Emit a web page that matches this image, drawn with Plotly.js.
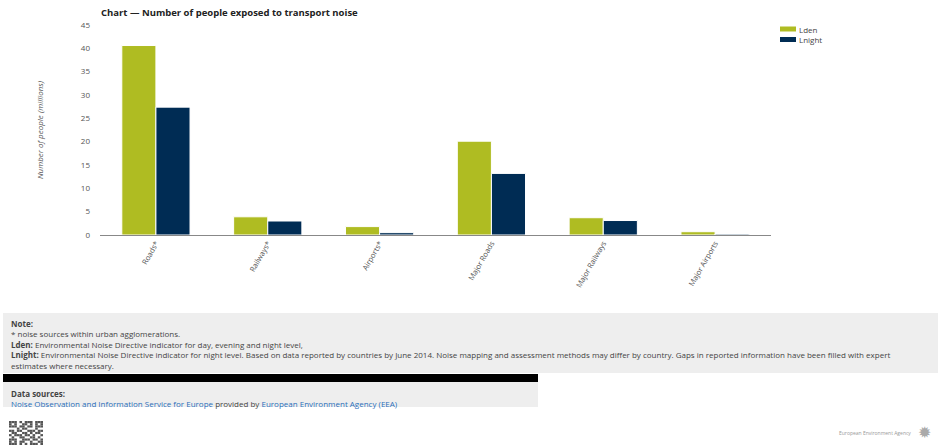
<!DOCTYPE html>
<html>
<head>
<meta charset="utf-8">
<script src="https://cdn.plot.ly/plotly-3.0.1.min.js"></script>
<style>html,body{margin:0;padding:0;background:#fff;}#chart{width:938px;height:447px;}</style>
</head>
<body>
<div id="chart"></div>
<script>
const categories = ["Roads*", "Railways*", "Airports*", "Major Roads", "Major Railways", "Major Airports"];
const seriesNames = ["Lden", "Lnight"];
const lden = [40.6, 3.9, 1.8, 20.1, 3.7, 0.7];
const lnight = [27.4, 3.0, 0.5, 13.2, 3.1, 0.2];
const yTicks = [0, 5, 10, 15, 20, 25, 30, 35, 40, 45];
const colors = ["#afbc22", "#002c54"];

const W = 938, H = 447;
const L = 100, R = 771, T = 25, B = 235;
const px = x => (x - L) / (R - L);
const py = y => (B - y) / (B - T);
const FONT = "Open Sans, DejaVu Sans, sans-serif";

const traces = [
  {type: "bar", name: seriesNames[0], x: categories, y: lden,
   marker: {color: colors[0], line: {color: "#ffffff", width: 1}}},
  {type: "bar", name: seriesNames[1], x: categories, y: lnight,
   marker: {color: colors[1], line: {color: "#ffffff", width: 1}}}
];

const shapes = [
  {type: "rect", xref: "paper", yref: "paper", x0: px(3), x1: px(938), y0: py(313), y1: py(373), fillcolor: "#eeeeee", line: {width: 0}, layer: "below"},
  {type: "rect", xref: "paper", yref: "paper", x0: px(3), x1: px(538), y0: py(374), y1: py(382), fillcolor: "#000000", line: {width: 0}},
  {type: "rect", xref: "paper", yref: "paper", x0: px(3), x1: px(538), y0: py(382), y1: py(407), fillcolor: "#eeeeee", line: {width: 0}, layer: "below"}
];

// QR-like decoration
const qr = [
  "1110101110111",
  "1010011010101",
  "1110110110111",
  "0001011000100",
  "1101100111011",
  "0110011010110",
  "1011101101001",
  "0100110011010",
  "1110011101101",
  "1010110010011",
  "1110101011101"
];
const qx = 9, qy = 421, cs = 34 / 13, rs = 24 / 11;
qr.forEach((row, r) => {
  row.split("").forEach((c, k) => {
    if (c === "1") shapes.push({type: "rect", xref: "paper", yref: "paper",
      x0: px(qx + k * cs), x1: px(qx + (k + 1) * cs), y0: py(qy + r * rs), y1: py(qy + (r + 1) * rs),
      fillcolor: "#555555", line: {width: 0}});
  });
});

const ann = (x, y, text, opts = {}) => Object.assign({
  xref: "paper", yref: "paper", x: px(x), y: py(y), text: text, showarrow: false,
  xanchor: "left", yanchor: "middle", align: "left", borderpad: 0,
  font: {family: FONT, size: 8, color: "#444"}
}, opts);

// legend drawn as swatches + labels
seriesNames.forEach((n, i) => {
  const yc = 29 + i * 10.5;
  shapes.push({type: "rect", xref: "paper", yref: "paper", x0: px(780), x1: px(796),
    y0: py(yc - 2.5), y1: py(yc + 2.5), fillcolor: colors[i], line: {width: 0}});
});

const noteLines = [
  "<b>Note:</b>",
  "* noise sources within urban agglomerations.",
  "<b>Lden:</b> Environmental Noise Directive indicator for day, evening and night level,",
  "<b>Lnight:</b> Environmental Noise Directive indicator for night level. Based on data reported by countries by June 2014. Noise mapping and assessment methods may differ by country. Gaps in reported information have been filled with expert",
  "estimates where necessary."
];
const sourceLines = [
  "<b>Data sources:</b>",
  "<span style='color:#2a6ebb'>Noise Observation and Information Service for Europe</span> provided by <span style='color:#2a6ebb'>European Environment Agency (EEA)</span>"
];

const annotations = [
  ann(100, 12, "<b>Chart — Number of people exposed to transport noise</b>", {font: {family: FONT, size: 9.5, color: "#222"}}),
  ann(798, 29, seriesNames[0]),
  ann(798, 39.5, seriesNames[1]),
  ann(10, 316.5, noteLines.join("<br>"), {yanchor: "top"}),
  ann(10, 386.5, sourceLines.join("<br>"), {yanchor: "top"}),
  ann(912, 433, "European Environment Agency", {xanchor: "right", font: {family: FONT, size: 5, color: "#999"}}),
  ann(924, 432, "✹", {xanchor: "center", font: {family: "DejaVu Sans", size: 16, color: "#aaa"}})
];

const layout = {
  width: W, height: H,
  margin: {l: L, r: W - R, t: T, b: H - B, pad: 0},
  paper_bgcolor: "#ffffff", plot_bgcolor: "#ffffff",
  font: {family: FONT, size: 8, color: "#555"},
  barmode: "group", bargap: 0.39, bargroupgap: 0,
  showlegend: false,
  xaxis: {type: "category", tickangle: -60, showline: true, linecolor: "#888", linewidth: 1,
    ticks: "", tickfont: {family: FONT, size: 7.5, color: "#555"}, showgrid: false, zeroline: false},
  yaxis: {range: [0, 45], tickvals: yTicks, ticktext: yTicks.map(String), showgrid: false, zeroline: false,
    showline: false, ticks: "", ticklabelstandoff: 9, tickfont: {family: FONT, size: 8, color: "#555"},
    title: {text: "<i>Number of people (millions)</i>", font: {family: FONT, size: 8, color: "#555"}, standoff: 36}},
  shapes: shapes,
  annotations: annotations
};

Plotly.newPlot("chart", traces, layout, {displayModeBar: false, staticPlot: true});
</script>
</body>
</html>
